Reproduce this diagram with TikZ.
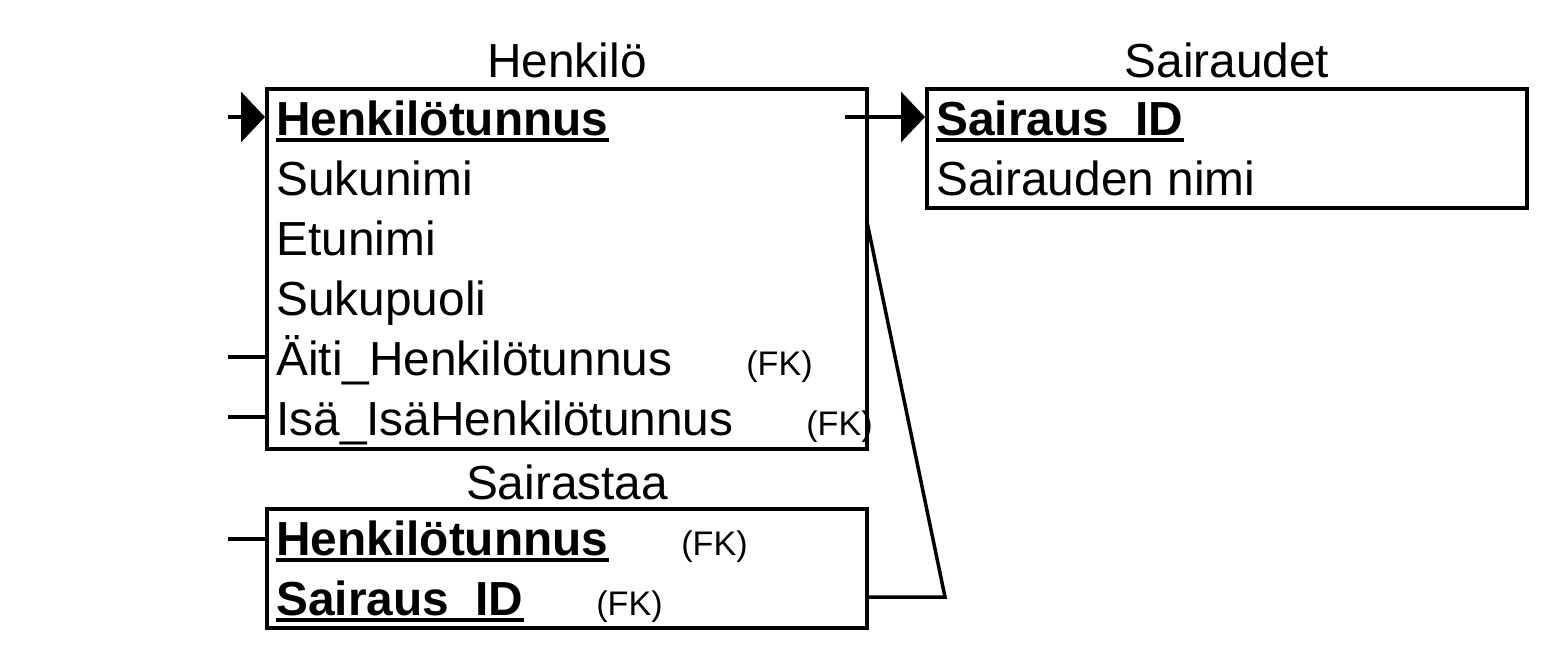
\documentclass[tikz,border=0pt]{standalone}
\usepackage{fontspec}
\setmainfont{Liberation Sans}
\usetikzlibrary{positioning,arrows.meta}

\begin{document}
\begin{tikzpicture}[
    table/.style={rectangle, draw, line width=0.08cm, minimum width=12cm, inner sep=0pt},
    title/.style={inner sep=0pt, font=\fontsize{27.2}{32}\selectfont},
    field/.style={anchor=base west, inner sep=0pt, font=\fontsize{27.2}{32}\selectfont},
    key/.style={field, font=\fontsize{27.2}{32}\selectfont\bfseries},
    fk/.style={anchor=base west, inner sep=0pt, font=\fontsize{19.4}{23}\selectfont},
    keyline/.style={line width=0.07cm},
    link/.style={line width=0.07cm},
    arrow/.style={link, -{Triangle[length=0.48cm, width=1cm]}}
]
    \useasboundingbox (0,0) rectangle (31.08,13.12);

    % Tables
    \node[table, minimum height=7.2cm] (henkilo) at (11.34,7.74) {};
    \node[table, minimum height=2.38cm] (sairaudet) at (24.54,10.15) {};
    \node[table, minimum height=2.38cm] (sairastaa) at (11.34,1.75) {};

    % Titles
    \node[title, above=0.18cm of henkilo] (henkilo-t) {Henkilö};
    \node[title, above=0.18cm of sairaudet] (sairaudet-t) {Sairaudet};
    \node[title, above=0.14cm of sairastaa] (sairastaa-t) {Sairastaa};

    % Henkilo fields
    \node[key] (h-id) at (5.52,10.42) {Henkilötunnus};
    \node[field] (h-suku) at (5.52,9.22) {Sukunimi};
    \node[field] (h-etu) at (5.52,8.02) {Etunimi};
    \node[field] (h-sp) at (5.52,6.82) {Sukupuoli};
    \node[field] (h-aiti) at (5.52,5.62) {Äiti\_Henkilötunnus};
    \node[field] (h-isa) at (5.52,4.42) {Isä\_IsäHenkilötunnus};
    \node[fk] (h-aiti-fk) at (14.92,5.62) {(FK)};
    \node[fk] (h-isa-fk) at (16.12,4.42) {(FK)};

    % Sairaudet fields
    \node[key] (s-id) at (18.72,10.42) {Sairaus\_ID};
    \node[field] (s-nimi) at (18.72,9.22) {Sairauden nimi};

    % Sairastaa fields
    \node[key] (st-h) at (5.52,2.02) {Henkilötunnus};
    \node[key] (st-s) at (5.52,0.82) {Sairaus\_ID};
    \node[fk] (st-h-fk) at (13.62,2.02) {(FK)};
    \node[fk] (st-s-fk) at (11.92,0.82) {(FK)};

    % Key underlines
    \foreach \k in {h-id,s-id,st-h,st-s}
        \draw[keyline] ([yshift=-0.1cm]\k.base west) -- ([yshift=-0.1cm]\k.base east);

    % Connectors
    \coordinate (in-h) at (4.56,10.78);
    \coordinate (out-s) at (16.9,10.78);
    \coordinate (in-aiti) at (4.56,5.98);
    \coordinate (in-isa) at (4.56,4.78);
    \coordinate (in-st) at (4.56,2.34);
    \coordinate (kink) at (18.9,1.18);
    \coordinate (kink-top) at (17.34,8.68);

    \draw[arrow] (in-h) -- (henkilo.west |- in-h);
    \draw[arrow] (out-s) -- (sairaudet.west |- out-s);
    \draw[link] (in-aiti) -- (henkilo.west |- in-aiti);
    \draw[link] (in-isa) -- (henkilo.west |- in-isa);
    \draw[link] (in-st) -- (sairastaa.west |- in-st);
    \draw[link] (sairastaa.east |- kink) -- (kink) -- (kink-top);
\end{tikzpicture}
\end{document}
